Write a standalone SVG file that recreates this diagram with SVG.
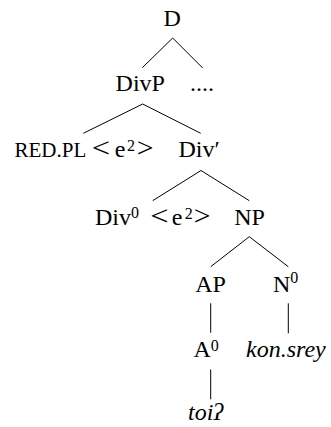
<svg xmlns="http://www.w3.org/2000/svg" width="331" height="427" viewBox="0 0 331 427">
  <style>
    text { font-family: "Liberation Serif", "Times New Roman", serif; font-size: 24px; fill: #000; }
    .m { text-anchor: middle; }
    .sup { font-size: 16px; }
    .sc { font-size: 21px; }
    .it { font-style: italic; }
    .rel { font-size: 27px; text-anchor: middle; }
    .edge { stroke: #000; stroke-width: 1; fill: none; }
  </style>
  <rect width="331" height="427" fill="#fff"/>

  <!-- tree branches -->
  <g id="connectors">
    <path class="edge" d="M172.7,38 L142.3,67.7 M172.7,38 L202.7,68"/>
    <path class="edge" d="M142.7,104 L83.3,133.3 M142.7,104 L200.7,133.3"/>
    <path class="edge" d="M201,170.5 L152.7,200.7 M201,170.5 L249.3,200.7"/>
    <path class="edge" d="M249.3,236.7 L210.7,266.7 M249.3,236.7 L288.3,266.7"/>
    <path class="edge" d="M210.7,303.3 V332.7 M288.3,303.3 V333.3"/>
    <path class="edge" d="M210.7,369.5 V399.3"/>
  </g>

  <g id="node-D"><text class="m" x="172.2" y="26">D</text></g>
  <g id="node-DivP"><text class="m" x="140.3" y="91">DivP</text></g>
  <g id="node-dots"><text x="190" y="91">....</text></g>

  <!-- specifier: RED.PL <e2> (angle brackets drawn wider, as math relations) -->
  <g id="node-redpl">
    <text class="sc" x="14.5" y="156.7">RED.PL</text>
    <text class="rel" transform="translate(101,156.7) scale(1.2,1)">&lt;</text>
    <text class="m" y="156.7"><tspan x="120">e</tspan><tspan class="sup" x="130.9" dy="-6">2</tspan></text>
    <text class="rel" transform="translate(145,156.7) scale(1.1,1)">&gt;</text>
  </g>
  <g id="node-Divbar"><text x="178.5" y="156.7">Div′</text></g>

  <g id="node-Div0">
    <text x="95" y="225">Div<tspan class="sup" dy="-7">0</tspan></text>
    <text class="rel" transform="translate(159.5,225) scale(1.2,1)">&lt;</text>
    <text class="m" y="225"><tspan x="177">e</tspan><tspan class="sup" x="188.7" dy="-6">2</tspan></text>
    <text class="rel" transform="translate(202.2,225) scale(1.1,1)">&gt;</text>
  </g>
  <g id="node-NP"><text class="m" x="249.5" y="225">NP</text></g>

  <g id="node-AP"><text class="m" x="210.5" y="291.7">AP</text></g>
  <g id="node-N0"><text x="273" y="291.7">N<tspan class="sup" dy="-9">0</tspan></text></g>

  <g id="node-A0"><text x="193.5" y="357.3">A<tspan class="sup" dy="-6">0</tspan></text></g>
  <g id="node-konsrey"><text class="it" x="246" y="357">kon.srey</text></g>

  <g id="node-toi"><text class="it" x="188" y="420">toiʔ</text></g>
</svg>
